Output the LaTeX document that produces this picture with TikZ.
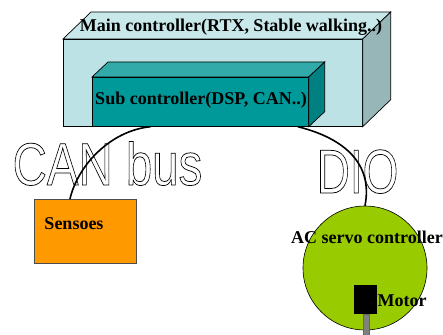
\documentclass[tikz,border=0pt]{standalone}
\usepackage{fontspec}
\setmainfont{Liberation Serif}
\newfontfamily\arialf{Liberation Sans}
\usetikzlibrary{calc}
\definecolor{mainfront}{RGB}{188,226,229}
\definecolor{maintop}{RGB}{200,232,234}
\definecolor{mainright}{RGB}{150,182,184}
\definecolor{subfront}{RGB}{0,153,153}
\definecolor{subtop}{RGB}{51,170,170}
\definecolor{subright}{RGB}{0,128,128}
\definecolor{sensor}{RGB}{255,153,0}
\definecolor{servo}{RGB}{153,204,0}
\definecolor{shaft}{RGB}{128,128,128}
\newcommand{\outlinetext}[1]{\special{pdf:literal direct 1 Tr 0.75 w 0 G}#1\special{pdf:literal direct 0 Tr}}
\begin{document}
\begin{tikzpicture}[x=1pt,y=-1pt,
  face/.style={draw=black,line width=0.7pt},
  boxf/.style={face,inner sep=0pt,anchor=north west},
  lbl/.style={font=\fontsize{18}{20}\selectfont\bfseries,inner sep=0pt,anchor=base},
  wire/.style={line width=1.6pt},
  big/.style={font=\arialf\fontsize{60}{60}\selectfont,inner sep=0pt,anchor=base}]
\useasboundingbox (0,0) rectangle (443,334);
% main controller box
\node[boxf,fill=mainfront,minimum width=299pt,minimum height=87pt] (main) at (63,39) {};
\filldraw[face,fill=maintop] (main.north west) -- ++(28,-27) -- ($(main.north east)+(28,-27)$) -- (main.north east) -- cycle;
\filldraw[face,fill=mainright] (main.north east) -- ++(28,-27) -- ($(main.south east)+(28,-27)$) -- (main.south east) -- cycle;
% sub controller box
\node[boxf,fill=subfront,minimum width=216pt,minimum height=49pt] (sub) at (92,77) {};
\filldraw[face,fill=subtop] (sub.north west) -- ++(16,-15) -- ($(sub.north east)+(16,-15)$) -- (sub.north east) -- cycle;
\filldraw[face,fill=subright] (sub.north east) -- ++(16,-15) -- ($(sub.south east)+(16,-15)$) -- (sub.south east) -- cycle;
\node[lbl] (maintxt) at (231,32) {Main controller(RTX, Stable walking..)};
\node[lbl] (subtxt) at (201,104) {Sub controller(DSP, CAN..)};
% sensors
\node[boxf,draw=black!70,fill=sensor,minimum width=102pt,minimum height=64pt] (sens) at (34,199) {};
\node[lbl] (senstxt) at (74,229) {Sensoes};
% servo
\node[circle,draw=black,line width=0.6pt,fill=servo,minimum size=124pt,inner sep=0pt] (servo) at (365,268) {};
\node[fill=shaft,draw=black!60,line width=0.4pt,minimum width=6pt,minimum height=22pt,inner sep=0pt,anchor=north] (shaftn) at (366,314) {};
\node[fill=black,minimum width=23pt,minimum height=29pt,inner sep=0pt,anchor=north west] (motor) at (354,285) {};
\node[lbl] (servotxt) at (367,243) {AC servo controller};
\node[lbl] (motortxt) at (402,306) {Motor};
% big outlined labels
\node[big] (can) at (107.5,185) {\scalebox{0.79}[1]{\outlinetext{CAN bus}}};
\node[big,font=\arialf\fontsize{62}{62}\selectfont] (dio) at (357.5,193) {\scalebox{0.74}[1]{\outlinetext{DIO}}};
% connectors
\coordinate (canA) at ($(sub.south west)!0.27!(sub.south east)$);
\coordinate (canB) at ($(sens.north west)!0.35!(sens.north east)$);
\draw[wire] (canA) .. controls +(-40,4) and +(8,-34) .. (canB);
\coordinate (dioA) at ($(sub.south west)!0.95!(sub.south east)$);
\draw[wire] (dioA) .. controls +(48,12) and +(8,-41) .. (servo.north);
\end{tikzpicture}
\end{document}
